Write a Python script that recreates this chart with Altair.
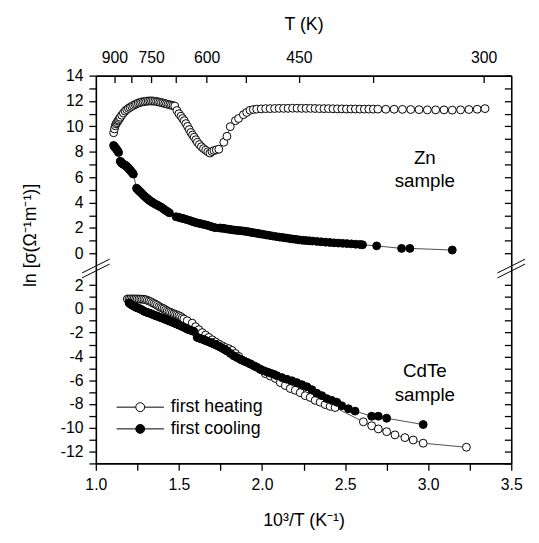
import altair as alt
import pandas as pd

# ---------------- data ----------------
series_names = ["first heating", "first cooling"]

# Zn sample, first heating (open circles)
zn_heat_x = [1.107, 1.112, 1.117, 1.122, 1.127, 1.132, 1.137, 1.142, 1.147, 1.156, 1.166, 1.176, 1.186, 1.196,
             1.206, 1.216, 1.226, 1.236, 1.245, 1.255, 1.265, 1.275, 1.285, 1.295, 1.305, 1.315, 1.325, 1.335,
             1.345, 1.355, 1.365, 1.375, 1.385, 1.395, 1.405, 1.415, 1.425, 1.435, 1.445, 1.455, 1.465, 1.475,
             1.488, 1.500, 1.512, 1.522, 1.532, 1.542, 1.552, 1.562, 1.572, 1.582, 1.592, 1.602, 1.611, 1.623,
             1.635, 1.648, 1.661, 1.674, 1.687, 1.699, 1.711, 1.725, 1.740, 1.770, 1.789, 1.809, 1.840, 1.859,
             1.888, 1.908, 1.928, 1.948, 1.968, 1.995, 2.022, 2.049, 2.076, 2.103, 2.130, 2.157, 2.184, 2.211,
             2.238, 2.265, 2.292, 2.319, 2.346, 2.373, 2.400, 2.427, 2.454, 2.481, 2.508, 2.535, 2.562, 2.589,
             2.616, 2.643, 2.670, 2.697, 2.745, 2.795, 2.845, 2.895, 2.945, 2.995, 3.045, 3.095, 3.145, 3.195,
             3.245, 3.295, 3.342]
zn_heat_y = [9.50, 9.80, 10.05, 10.20, 10.30, 10.42, 10.50, 10.62, 10.72, 10.88, 11.05, 11.20, 11.32, 11.42,
             11.50, 11.58, 11.65, 11.72, 11.78, 11.84, 11.88, 11.92, 11.94, 11.96, 11.98, 12.00, 12.00, 12.00,
             12.00, 11.98, 11.96, 11.93, 11.90, 11.87, 11.84, 11.80, 11.77, 11.73, 11.70, 11.67, 11.63, 11.60,
             11.25, 11.00, 10.80, 10.62, 10.45, 10.22, 10.00, 9.75, 9.52, 9.32, 9.15, 8.95, 8.75, 8.57,
             8.40, 8.25, 8.13, 8.00, 7.90, 8.02, 8.10, 8.15, 8.20, 8.75, 9.22, 9.98, 10.45, 10.62,
             10.92, 11.10, 11.27, 11.33, 11.36, 11.38, 11.40, 11.40, 11.41, 11.42, 11.42, 11.42, 11.43, 11.43,
             11.42, 11.42, 11.42, 11.41, 11.40, 11.40, 11.40, 11.39, 11.38, 11.38, 11.37, 11.37, 11.37, 11.36,
             11.36, 11.36, 11.36, 11.36, 11.35, 11.35, 11.34, 11.33, 11.32, 11.30, 11.30, 11.30, 11.28, 11.30,
             11.33, 11.35, 11.40]

# Zn sample, first cooling (filled circles)
zn_cool_x = [1.107, 1.112, 1.117, 1.122, 1.127, 1.132, 1.137, 1.147, 1.152, 1.156, 1.161, 1.166, 1.171, 1.176,
             1.181, 1.186, 1.191, 1.196, 1.201, 1.206, 1.211, 1.216, 1.221, 1.226, 1.245, 1.250, 1.255, 1.260,
             1.265, 1.272, 1.280, 1.287, 1.295, 1.302, 1.309, 1.316, 1.323, 1.331, 1.338, 1.346, 1.354, 1.364,
             1.374, 1.384, 1.394, 1.406, 1.418, 1.430, 1.443, 1.483, 1.495, 1.507, 1.520, 1.532, 1.547, 1.562,
             1.577, 1.592, 1.606, 1.621, 1.635, 1.650, 1.668, 1.685, 1.702, 1.719, 1.745, 1.758, 1.770, 1.785,
             1.800, 1.815, 1.829, 1.844, 1.858, 1.873, 1.888, 1.903, 1.918, 1.932, 1.947, 1.962, 1.977, 1.991,
             2.006, 2.026, 2.046, 2.066, 2.086, 2.105, 2.125, 2.145, 2.165, 2.185, 2.205, 2.225, 2.244, 2.264,
             2.284, 2.303, 2.330, 2.356, 2.382, 2.408, 2.434, 2.460, 2.486, 2.512, 2.538, 2.564, 2.590, 2.605,
             2.690, 2.840, 2.890, 3.145]
zn_cool_y = [8.50, 8.40, 8.32, 8.25, 8.15, 8.05, 7.95, 7.25, 7.18, 7.10, 7.06, 7.02, 6.98, 6.94,
             6.90, 6.85, 6.78, 6.70, 6.63, 6.56, 6.48, 6.40, 6.32, 6.24, 5.13, 5.06, 5.00, 4.93,
             4.87, 4.78, 4.68, 4.58, 4.48, 4.40, 4.32, 4.25, 4.17, 4.10, 4.04, 3.97, 3.91, 3.84,
             3.77, 3.70, 3.63, 3.52, 3.40, 3.30, 3.19, 2.88, 2.85, 2.80, 2.76, 2.72, 2.66, 2.60,
             2.53, 2.46, 2.41, 2.37, 2.32, 2.28, 2.22, 2.15, 2.08, 2.02, 2.00, 1.98, 1.97, 1.93,
             1.90, 1.87, 1.84, 1.82, 1.80, 1.78, 1.76, 1.73, 1.70, 1.66, 1.63, 1.60, 1.56, 1.53,
             1.50, 1.45, 1.41, 1.36, 1.32, 1.28, 1.25, 1.21, 1.17, 1.13, 1.10, 1.06, 1.03, 1.01,
             0.99, 0.97, 0.94, 0.91, 0.88, 0.86, 0.83, 0.81, 0.79, 0.77, 0.75, 0.72, 0.70, 0.68,
             0.59, 0.39, 0.39, 0.26]

# CdTe sample, first heating (open circles)
cdte_heat_x = [1.19, 1.20, 1.21, 1.22, 1.23, 1.24, 1.25, 1.26, 1.27, 1.28, 1.29, 1.30, 1.31, 1.32, 1.33, 1.34,
               1.35, 1.36, 1.37, 1.38, 1.39, 1.40, 1.41, 1.42, 1.43, 1.44, 1.45, 1.46, 1.47, 1.48, 1.49, 1.50,
               1.51, 1.52, 1.53, 1.55, 1.58, 1.60, 1.62, 1.64, 1.66, 1.68, 1.70, 1.72, 1.74, 1.76, 1.78, 1.80,
               1.82, 1.84, 1.86, 1.88, 1.90, 1.93, 1.96, 1.99, 2.02, 2.05, 2.08, 2.11, 2.14, 2.17, 2.20, 2.23,
               2.26, 2.29, 2.32, 2.35, 2.38, 2.41, 2.44, 2.61, 2.66, 2.70, 2.75, 2.80, 2.86, 2.91, 2.97, 3.23]
cdte_heat_y = [0.83, 0.83, 0.83, 0.83, 0.83, 0.83, 0.83, 0.82, 0.82, 0.81, 0.80, 0.77, 0.72, 0.66, 0.60, 0.52,
               0.45, 0.38, 0.30, 0.20, 0.12, 0.06, 0.00, -0.09, -0.18, -0.24, -0.30, -0.36, -0.42, -0.47, -0.52, -0.58,
               -0.65, -0.75, -0.85, -1.00, -1.20, -1.50, -1.75, -2.00, -2.20, -2.40, -2.60, -2.78, -2.95, -3.10, -3.25, -3.35,
               -3.50, -3.75, -4.00, -4.30, -4.45, -4.65, -4.85, -5.10, -5.45, -5.65, -5.85, -6.20, -6.45, -6.70, -6.85, -7.05,
               -7.30, -7.45, -7.70, -7.85, -8.05, -8.20, -8.30, -9.50, -9.83, -10.10, -10.33, -10.60, -10.83, -11.03, -11.30, -11.64]

# CdTe sample, first cooling (filled circles)
cdte_cool_x = [1.20, 1.21, 1.22, 1.23, 1.24, 1.25, 1.26, 1.27, 1.28, 1.29, 1.30, 1.31, 1.32, 1.33, 1.34, 1.35,
               1.36, 1.37, 1.38, 1.39, 1.40, 1.41, 1.42, 1.43, 1.44, 1.45, 1.46, 1.47, 1.48, 1.49, 1.50, 1.51,
               1.52, 1.53, 1.54, 1.55, 1.56, 1.57, 1.58, 1.59, 1.61, 1.62, 1.63, 1.64, 1.65, 1.66, 1.67, 1.68,
               1.69, 1.70, 1.71, 1.72, 1.73, 1.74, 1.75, 1.76, 1.77, 1.78, 1.79, 1.81, 1.83, 1.85, 1.87, 1.89,
               1.91, 1.93, 1.95, 1.97, 1.99, 2.01, 2.03, 2.05, 2.07, 2.09, 2.12, 2.15, 2.18, 2.21, 2.24, 2.27,
               2.30, 2.33, 2.36, 2.39, 2.42, 2.45, 2.48, 2.52, 2.56, 2.66, 2.70, 2.75, 2.97]
cdte_cool_y = [0.50, 0.38, 0.30, 0.22, 0.15, 0.08, 0.03, -0.02, -0.11, -0.20, -0.25, -0.30, -0.35, -0.40, -0.46, -0.52,
               -0.57, -0.62, -0.67, -0.73, -0.78, -0.83, -0.89, -0.95, -1.00, -1.06, -1.12, -1.18, -1.24, -1.30, -1.36, -1.42,
               -1.48, -1.55, -1.62, -1.70, -1.75, -1.80, -1.85, -1.90, -2.40, -2.45, -2.50, -2.55, -2.60, -2.66, -2.72, -2.78,
               -2.83, -2.89, -2.95, -3.02, -3.08, -3.15, -3.22, -3.30, -3.38, -3.46, -3.55, -3.75, -3.95, -4.10, -4.25, -4.38,
               -4.50, -4.62, -4.78, -4.92, -5.08, -5.20, -5.30, -5.40, -5.50, -5.62, -5.78, -5.92, -6.05, -6.20, -6.38, -6.55,
               -6.80, -7.10, -7.30, -7.55, -7.70, -7.85, -8.15, -8.40, -8.60, -9.03, -9.03, -9.20, -9.73]

temp_ticks_K = [900, 825, 750, 675, 600, 525, 450, 375, 300]
temp_labels_K = [900, 750, 600, 450, 300]
x_ticks = [1.0, 1.25, 1.5, 1.75, 2.0, 2.25, 2.5, 2.75, 3.0, 3.25, 3.5]
top_y_ticks = list(range(0, 15))
bot_y_ticks = list(range(-13, 3))

ann_text = ["Zn\nsample", "CdTe\nsample"]
ann_x = [2.98, 2.98]
ann_y = [7.52, -5.25]

# ---------------- tables ----------------
def table(hx, hy, cx, cy):
    return pd.concat([
        pd.DataFrame({"x": hx, "y": hy, "series": series_names[0]}),
        pd.DataFrame({"x": cx, "y": cy, "series": series_names[1]}),
    ], ignore_index=True)

zn_df = table(zn_heat_x, zn_heat_y, zn_cool_x, zn_cool_y)
cd_df = table(cdte_heat_x, cdte_heat_y, cdte_cool_x, cdte_cool_y)
t_pos = [1000.0 / t for t in temp_ticks_K]

FONT = "Liberation Sans"
W, H_TOP, H_BOT = 421, 193, 200
xs = alt.Scale(domain=[1.0, 3.5], nice=False, zero=False)
ys_top = alt.Scale(domain=[-1, 14], nice=False, zero=False)
ys_bot = alt.Scale(domain=[-13, 3.6], nice=False, zero=False)
fill_scale = alt.Scale(domain=series_names, range=["white", "black"])
one = pd.DataFrame({"k": [0]})

T_LABEL = ("indexof(" + str(temp_labels_K) + ", round(1000/datum.value)) >= 0 ? "
           "'' + round(1000/datum.value) : ''")
EVEN = "datum.value % 2 == 0 ? '' + datum.value : ''"
HALF = "(datum.value * 2) % 1 == 0 ? format(datum.value, '.1f') : ''"

legend_path = ("M-1.92,0L-0.36,0M0.36,0L1.92,0"
               "M0.36,0A0.36,0.36,0,1,1,-0.36,0A0.36,0.36,0,1,1,0.36,0Z")


def panel(df, ys, yticks, height, top, ann_i):
    base = alt.Chart(df)
    lines = base.mark_line(color="black", strokeWidth=0.7).encode(
        x=alt.X("x:Q", scale=xs, axis=None),
        y=alt.Y("y:Q", scale=ys, axis=None),
        detail="series:N",
    )
    if top:
        xaxis = alt.Axis(orient="top", values=t_pos, labelExpr=T_LABEL, ticks=False, domain=False,
                         title="T (K)", labelPadding=10, titlePadding=17, labelOverlap=False,
                         labelFlush=False, grid=False)
        legend = None
    else:
        xaxis = alt.Axis(orient="bottom", values=x_ticks, labelExpr=HALF, tickSize=7,
                         title="10³/T (K⁻¹)", labelPadding=6, titlePadding=20, labelOverlap=False,
                         labelFlush=False, grid=False)
        legend = alt.Legend(orient="none", legendX=32, legendY=130, title=None, padding=0,
                            symbolType=legend_path, symbolSize=625, symbolStrokeColor="black",
                            symbolStrokeWidth=1, labelFontSize=18, labelFont=FONT, labelOffset=18,
                            rowPadding=0, labelColor="black")
    pts = base.mark_point(shape="circle", filled=True, size=64, stroke="black", strokeWidth=1,
                          opacity=1).encode(
        x=alt.X("x:Q", scale=xs, axis=xaxis),
        y=alt.Y("y:Q", scale=ys, axis=alt.Axis(orient="left", values=yticks, labelExpr=EVEN,
                                               tickSize=7, labelPadding=6, title=None, grid=False,
                                               labelOverlap=False, labelFlush=False)),
        fill=alt.Fill("series:N", scale=fill_scale, legend=legend),
    )
    if top:
        gx = alt.Axis(orient="bottom", offset=-height, values=t_pos, labels=False, tickSize=7,
                      title=None, grid=False)
    else:
        gx = None
    ghost = base.mark_point(opacity=0).encode(
        x=alt.X("x:Q", scale=xs, axis=gx),
        y=alt.Y("y:Q", scale=ys, axis=alt.Axis(orient="left", offset=-W, values=yticks, labels=False,
                                               tickSize=7, title=None, grid=False)),
    )
    ann = alt.Chart(pd.DataFrame({"x": [ann_x[ann_i]], "y": [ann_y[ann_i]],
                                  "t": [ann_text[ann_i]]})).mark_text(
        fontSize=19, font=FONT, lineBreak="\n", lineHeight=24, color="black").encode(
        x=alt.X("x:Q", scale=xs, axis=None),
        y=alt.Y("y:Q", scale=ys, axis=None),
        text="t:N",
    )
    layers = [ghost, lines, pts, ann]
    if top:
        ytitle = alt.Chart(one).mark_text(angle=270, fontSize=18, font=FONT, color="black").encode(
            x=alt.value(-66), y=alt.value(162), text=alt.value("ln [σ(Ω⁻¹m⁻¹)]"))
        layers.append(ytitle)
        for cx in (0, W):
            for cy in (193, 198):
                layers.append(alt.Chart(one).mark_rule(color="black", strokeWidth=1).encode(
                    x=alt.value(cx - 14), x2=alt.value(cx + 14),
                    y=alt.value(cy + 7), y2=alt.value(cy - 7)))
    return alt.layer(*layers).resolve_axis(x="independent", y="independent").properties(
        width=W, height=height)


top = panel(zn_df, ys_top, top_y_ticks, H_TOP, True, 0)
bottom = panel(cd_df, ys_bot, bot_y_ticks, H_BOT, False, 1)

chart = alt.vconcat(top, bottom, spacing=0, bounds="flush").resolve_legend(
    fill="independent").properties(
    padding={"left": 14, "top": 4, "right": 5, "bottom": 0}
).configure_view(stroke=None).configure_axis(
    labelFont=FONT, labelFontSize=16, labelColor="black",
    titleFont=FONT, titleFontSize=18, titleFontWeight="normal", titleColor="black",
    domainColor="black", domainWidth=1.6, tickColor="black", tickWidth=1.3,
).configure_text(font=FONT)

chart.save("out.html", embed_options={"renderer": "svg", "actions": False})
